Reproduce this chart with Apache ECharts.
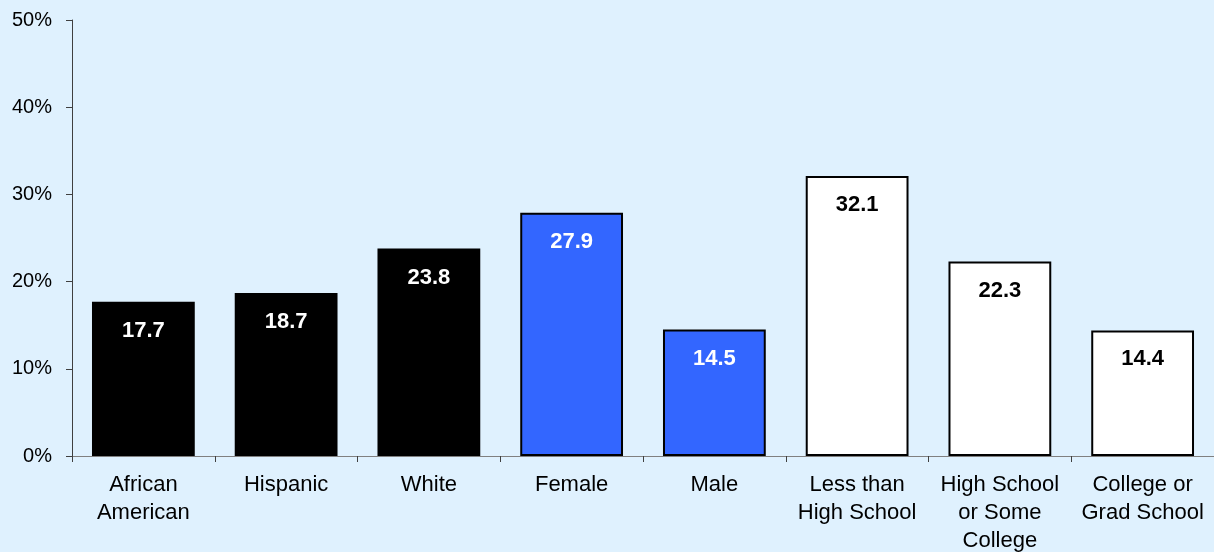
<!DOCTYPE html>
<html>
<head>
<meta charset="utf-8">
<script src="https://cdn.jsdelivr.net/npm/echarts@6/dist/echarts.min.js"></script>
<style>
html,body{margin:0;padding:0;background:#dff1fe;}
#c{width:1214px;height:552px;}
</style>
</head>
<body>
<div id="c"></div>
<script>
const categories = ["African\nAmerican", "Hispanic", "White", "Female", "Male", "Less than\nHigh School", "High School\nor Some\nCollege", "College or\nGrad School"];
const values = [17.7, 18.7, 23.8, 27.9, 14.5, 32.1, 22.3, 14.4];
const groups = ["race", "race", "race", "sex", "sex", "edu", "edu", "edu"];
const yTicks = [0, 10, 20, 30, 40, 50];

const fillByGroup = { race: "#000000", sex: "#3366ff", edu: "#ffffff" };
const labelByGroup = { race: "#ffffff", sex: "#ffffff", edu: "#000000" };

const chart = echarts.init(document.getElementById('c'));
chart.setOption({
  backgroundColor: "#dff1fe",
  animation: false,
  grid: { left: 72, right: 0, top: 20, bottom: 96, outerBoundsMode: 'none', containLabel: false },
  xAxis: {
    type: 'category',
    data: categories,
    axisLine: { lineStyle: { color: '#808080', width: 1 } },
    axisTick: { show: true, length: 6, inside: false, lineStyle: { color: '#404040' } },
    axisLabel: { color: '#000', fontFamily: 'Liberation Sans, Arial', fontSize: 22, lineHeight: 28, margin: 15, interval: 0 }
  },
  yAxis: {
    type: 'value',
    min: yTicks[0], max: yTicks[yTicks.length - 1], interval: 10,
    axisLine: { show: true, lineStyle: { color: '#404040', width: 1 } },
    axisTick: { show: true, length: 6, lineStyle: { color: '#404040' } },
    splitLine: { show: false },
    axisLabel: { color: '#000', fontFamily: 'Liberation Sans, Arial', fontSize: 20, margin: 20, formatter: v => v + '%' }
  },
  series: [{
    type: 'bar',
    barWidth: '72%',
    data: values.map((v, i) => ({
      value: v,
      itemStyle: { color: fillByGroup[groups[i]], borderColor: '#000', borderWidth: 2 },
      label: { color: labelByGroup[groups[i]] }
    })),
    label: {
      show: true, position: 'insideTop', distance: 18,
      fontFamily: 'Liberation Sans, Arial', fontSize: 22, fontWeight: 'bold',
      formatter: p => p.value.toFixed(1)
    }
  }]
});
</script>
</body>
</html>
